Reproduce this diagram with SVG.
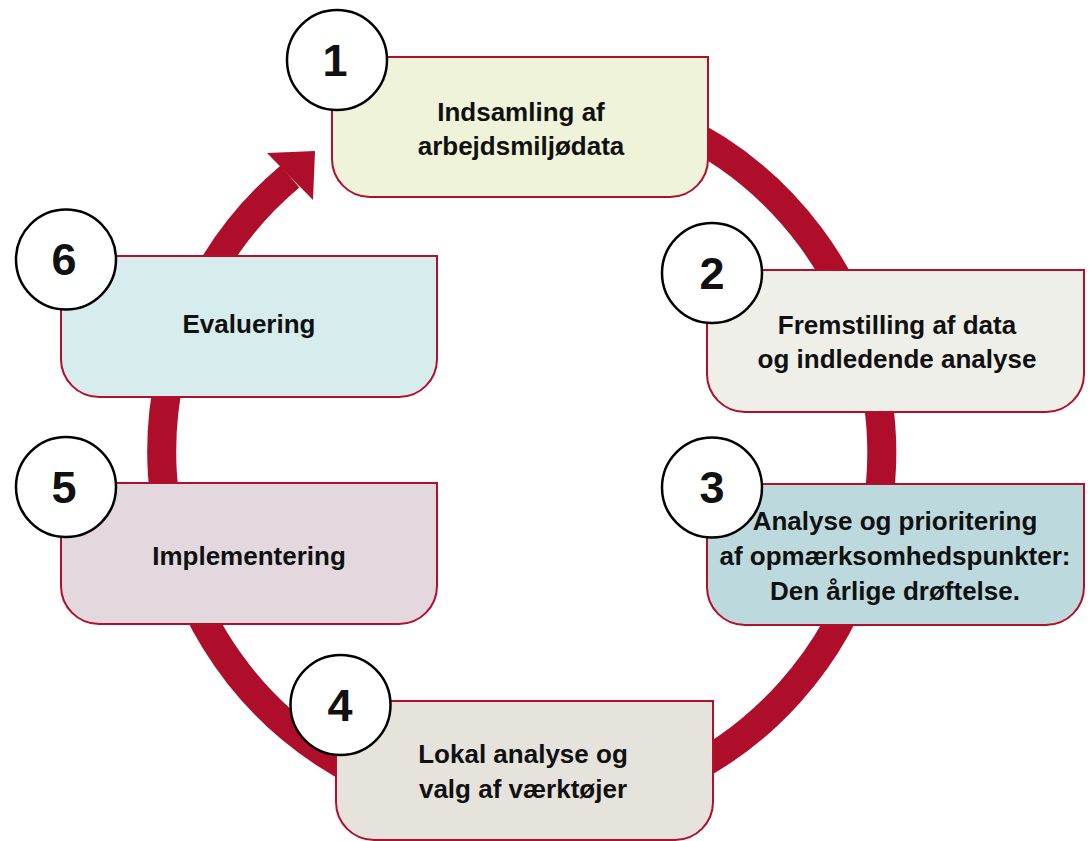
<svg xmlns="http://www.w3.org/2000/svg" width="1090" height="841" viewBox="0 0 1090 841">
<style>
.box{stroke:#b0102b;stroke-width:2}
.num{fill:#fff;stroke:#000;stroke-width:2.5}
.nt{font-family:"Liberation Sans",Arial,sans-serif;font-weight:bold;font-size:45px;fill:#111;text-anchor:middle}
.lbl{font-family:"Liberation Sans",Arial,sans-serif;font-weight:bold;font-size:26px;fill:#111;text-anchor:middle}
.ring{fill:none;stroke:#ae0e2a;stroke-width:29}
</style>
<rect width="1090" height="841" fill="#fff"/>
<g id="connectors">
<path class="ring" d="M 522 92 A 360 360 0 1 1 290 176.5"/>
<polygon points="267,153 315,151 313,200" fill="#ae0e2a"/>
</g>
<g id="node1">
<path class="box" fill="#eff3d9" d="M332 57 H708 V159 A38 38 0 0 1 670 197 H370 A38 38 0 0 1 332 159 Z"/>
<text class="lbl" x="521" y="121">Indsamling af</text>
<text class="lbl" x="521" y="155">arbejdsmiljødata</text>
<circle class="num" cx="337" cy="60" r="50"/>
<text class="nt" x="335" y="76">1</text>
</g>
<g id="node2">
<path class="box" fill="#efefe9" d="M707 270 H1084 V374 A38 38 0 0 1 1046 412 H745 A38 38 0 0 1 707 374 Z"/>
<text class="lbl" x="897" y="334">Fremstilling af data</text>
<text class="lbl" x="897" y="368">og indledende analyse</text>
<circle class="num" cx="712" cy="273" r="50"/>
<text class="nt" x="712" y="289">2</text>
</g>
<g id="node3">
<path class="box" fill="#bcd9de" d="M707 484 H1084 V587 A38 38 0 0 1 1046 625 H745 A38 38 0 0 1 707 587 Z"/>
<text class="lbl" x="895" y="530">Analyse og prioritering</text>
<text class="lbl" x="895" y="565">af opmærksomhedspunkter:</text>
<text class="lbl" x="895" y="600">Den årlige drøftelse.</text>
<circle class="num" cx="712" cy="487.5" r="50"/>
<text class="nt" x="712" y="503">3</text>
</g>
<g id="node4">
<path class="box" fill="#e6e3dd" d="M336 701 H713 V802 A38 38 0 0 1 675 840 H374 A38 38 0 0 1 336 802 Z"/>
<text class="lbl" x="523" y="763">Lokal analyse og</text>
<text class="lbl" x="523" y="798">valg af værktøjer</text>
<circle class="num" cx="340.5" cy="705" r="50"/>
<text class="nt" x="340" y="721">4</text>
</g>
<g id="node5">
<path class="box" fill="#e3d8de" d="M61 483 H437 V586 A38 38 0 0 1 399 624 H99 A38 38 0 0 1 61 586 Z"/>
<text class="lbl" x="249" y="565">Implementering</text>
<circle class="num" cx="66" cy="487" r="50"/>
<text class="nt" x="64" y="503">5</text>
</g>
<g id="node6">
<path class="box" fill="#d7ecec" d="M61 256 H437 V359 A38 38 0 0 1 399 397 H99 A38 38 0 0 1 61 359 Z"/>
<text class="lbl" x="249" y="333">Evaluering</text>
<circle class="num" cx="66" cy="259.5" r="50"/>
<text class="nt" x="64" y="275">6</text>
</g>
</svg>
